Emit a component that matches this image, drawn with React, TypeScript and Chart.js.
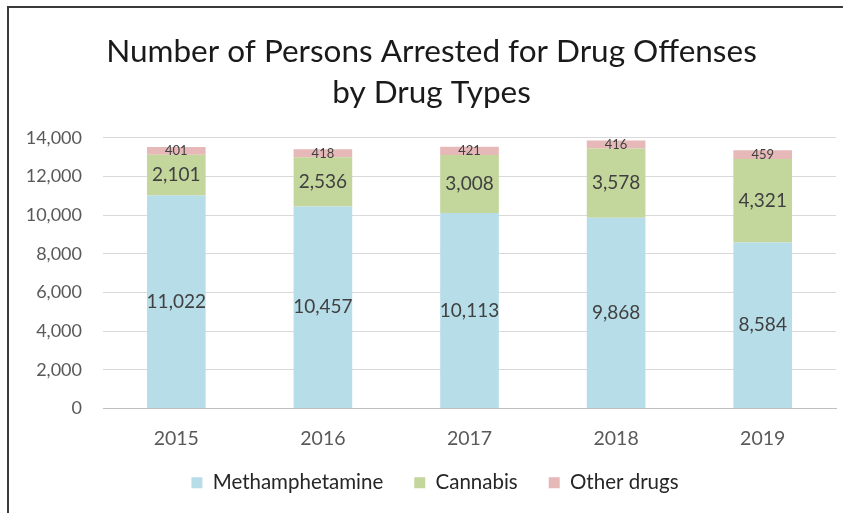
import React, { useEffect, useRef } from 'react';
import Chart from 'chart.js/auto';

// --- Datos del gráfico ---
const years = ['2015', '2016', '2017', '2018', '2019'];
const methamphetamine = [11022, 10457, 10113, 9868, 8584];
const cannabis = [2101, 2536, 3008, 3578, 4321];
const otherDrugs = [401, 418, 421, 416, 459];
const yTicks = [0, 2000, 4000, 6000, 8000, 10000, 12000, 14000];

const FONT = 'Lato, "Open Sans", sans-serif';

// Etiquetas de valor centradas en cada segmento
const barLabels = {
  id: 'barLabels',
  afterDatasetsDraw(chart: any) {
    const ctx = chart.ctx;
    chart.data.datasets.forEach((ds: any, i: number) => {
      const meta = chart.getDatasetMeta(i);
      const size = i === 2 ? 13 : 19;
      ctx.save();
      ctx.font = `${size}px ${FONT}`;
      ctx.fillStyle = '#404040';
      ctx.textAlign = 'center';
      ctx.textBaseline = 'middle';
      meta.data.forEach((bar: any, j: number) => {
        const { x, y, base } = bar.getProps(['x', 'y', 'base'], true);
        ctx.fillText(Number(ds.data[j]).toLocaleString('en-US'), x, (y + base) / 2);
      });
      ctx.restore();
    });
  },
};

// Ajuste fino de la posición de la leyenda (un poco a la derecha y más arriba)
const legendShift = {
  id: 'legendShift',
  afterLayout(chart: any) {
    const lg = chart.legend;
    if (!lg) return;
    lg.left += 3.5;
    lg.right += 3.5;
    lg.top -= 9;
    lg.bottom -= 9;
  },
};

export default function App() {
  const canvasRef = useRef<HTMLCanvasElement>(null);

  useEffect(() => {
    const ctx = canvasRef.current?.getContext('2d');
    if (!ctx) return;

    const chart = new Chart(ctx, {
      type: 'bar',
      data: {
        labels: years,
        datasets: [
          { label: 'Methamphetamine', data: methamphetamine, backgroundColor: '#b7dde8' },
          { label: 'Cannabis', data: cannabis, backgroundColor: '#c3d69b' },
          { label: 'Other drugs', data: otherDrugs, backgroundColor: '#e6b9b8' },
        ],
      },
      options: {
        animation: false,
        responsive: true,
        maintainAspectRatio: false,
        datasets: { bar: { categoryPercentage: 1, barPercentage: 0.4 } },
        layout: { padding: { left: 18, right: 7, bottom: 1 } },
        plugins: {
          title: {
            display: true,
            text: ['Number of Persons Arrested for Drug Offenses', 'by Drug Types'],
            color: '#1a1a1a',
            font: { family: FONT, size: 31.5, weight: 'normal', lineHeight: 1.3 },
            padding: { top: 23.5, bottom: 24.5 },
          },
          legend: {
            position: 'bottom',
            labels: {
              color: '#262626',
              font: { family: FONT, size: 20.5 },
              boxWidth: 11,
              boxHeight: 11,
              padding: 31,
            },
          },
          tooltip: { enabled: false },
        },
        scales: {
          x: {
            stacked: true,
            grid: { display: false },
            border: { color: '#bfbfbf', width: 1 },
            ticks: { color: '#595959', font: { family: FONT, size: 19.5 }, padding: 11 },
            afterFit: (axis: any) => {
              axis.height = 42;
            },
          },
          y: {
            stacked: true,
            min: 0,
            max: 14000,
            afterBuildTicks: (axis: any) => {
              axis.ticks = yTicks.map(v => ({ value: v }));
            },
            afterFit: (axis: any) => {
              axis.width = 76;
            },
            grid: { color: '#d9d9d9', drawTicks: false },
            border: { display: false },
            ticks: {
              color: '#595959',
              font: { family: FONT, size: 18 },
              padding: 21,
              callback: (v: any) => Number(v).toLocaleString('en-US'),
            },
          },
        },
      },
      plugins: [barLabels, legendShift],
    });

    return () => chart.destroy();
  }, []);

  return (
    <div
      style={{
        position: 'absolute',
        left: 7,
        top: 6,
        width: 836,
        height: 507,
        boxSizing: 'border-box',
        borderTop: '2px solid #3a3a3a',
        borderLeft: '2px solid #3a3a3a',
        background: '#fff',
      }}
    >
      <canvas ref={canvasRef}></canvas>
    </div>
  );
}
